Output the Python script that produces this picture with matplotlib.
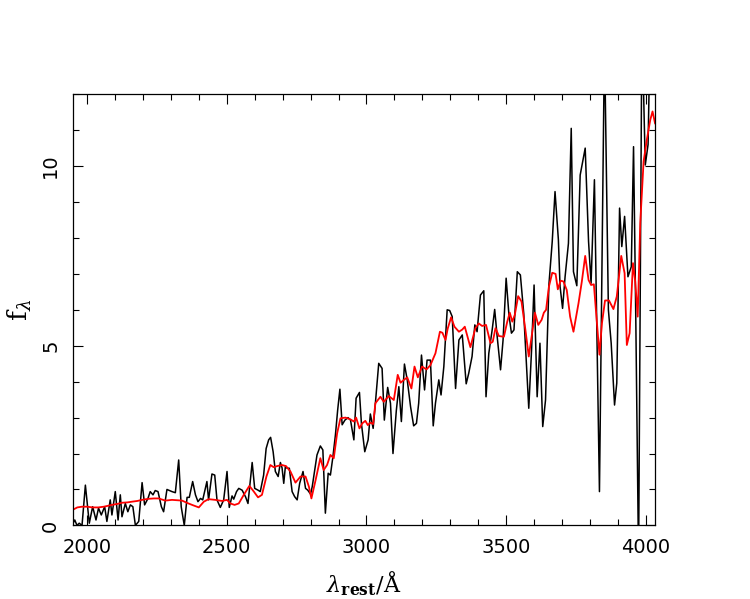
import matplotlib
matplotlib.use('Agg')
import matplotlib.pyplot as plt
from matplotlib.ticker import MultipleLocator

# observed spectrum (black)
obs_wave = [1948, 1956, 1964, 1972, 1982, 1994, 2008, 2020, 2032, 2041,
            2051, 2063, 2071, 2083, 2089, 2101, 2111, 2119, 2125, 2137,
            2146, 2155, 2164, 2173, 2185, 2197, 2206, 2218, 2226, 2236,
            2244, 2254, 2266, 2274, 2286, 2304, 2316, 2328, 2337, 2348,
            2358, 2366, 2378, 2388, 2397, 2406, 2414, 2429, 2435, 2447,
            2457, 2465, 2477, 2489, 2501, 2509, 2519, 2525, 2535, 2543,
            2555, 2567, 2576, 2591, 2600, 2612, 2620, 2632, 2641, 2650,
            2657, 2666, 2674, 2684, 2692, 2698, 2704, 2710, 2716, 2724,
            2734, 2743, 2752, 2761, 2773, 2782, 2790, 2800, 2806, 2815,
            2823, 2835, 2844, 2853, 2863, 2871, 2880, 2889, 2897, 2905,
            2913, 2923, 2934, 2943, 2955, 2963, 2975, 2982, 2994, 3006,
            3014, 3024, 3032, 3044, 3056, 3064, 3076, 3086, 3095, 3107,
            3116, 3125, 3136, 3146, 3158, 3169, 3179, 3187, 3197, 3208,
            3217, 3229, 3239, 3247, 3259, 3267, 3277, 3289, 3298, 3307,
            3319, 3331, 3343, 3357, 3366, 3378, 3388, 3396, 3408, 3420,
            3428, 3438, 3450, 3459, 3468, 3480, 3489, 3500, 3510, 3519,
            3528, 3540, 3551, 3563, 3573, 3581, 3591, 3600, 3611, 3621,
            3631, 3641, 3653, 3665, 3675, 3687, 3693, 3702, 3711, 3723,
            3733, 3741, 3753, 3765, 3783, 3795, 3804, 3816, 3834, 3852,
            3866, 3876, 3888, 3896, 3906, 3914, 3924, 3936, 3948, 3956,
            3964, 3974, 3986, 3998, 4008, 4016, 4033]
obs_flux = [0.03, 0.15, 0.0, 0.06, 0.0, 1.12, 0.06, 0.52, 0.15, 0.48,
            0.29, 0.52, 0.11, 0.71, 0.29, 0.94, 0.15, 0.85, 0.24, 0.61,
            0.38, 0.57, 0.52, 0.0, 0.11, 1.19, 0.57, 0.75, 0.94, 0.85,
            0.97, 0.94, 0.52, 0.38, 1.0, 0.94, 0.91, 1.82, 0.52, 0.0,
            0.78, 0.78, 1.22, 0.85, 0.66, 0.75, 0.71, 1.22, 0.71, 1.43,
            1.4, 0.71, 0.5, 0.71, 1.5, 0.5, 0.82, 0.73, 0.94, 1.03,
            0.98, 0.8, 0.61, 1.75, 1.03, 0.98, 0.94, 1.4, 2.14, 2.38,
            2.45, 2.05, 1.5, 1.36, 1.75, 1.6, 1.17, 1.65, 1.59, 1.59,
            0.94, 0.8, 0.71, 1.17, 1.5, 1.03, 0.98, 0.87, 1.08, 1.54,
            1.96, 2.21, 2.1, 0.34, 1.45, 1.4, 1.91, 2.52, 3.21, 3.79,
            2.8, 2.93, 3.0, 2.93, 2.38, 3.54, 3.7, 2.84, 2.05, 2.38,
            3.1, 2.7, 3.4, 4.51, 4.37, 2.93, 3.84, 3.4, 2.0, 3.2,
            3.86, 2.89, 4.49, 4.05, 3.3, 2.77, 2.84, 3.4, 4.74, 3.77,
            4.6, 4.6, 2.77, 3.4, 4.05, 3.63, 4.42, 6.0, 5.98, 5.81,
            3.81, 5.16, 5.3, 3.94, 4.23, 4.7, 5.58, 5.39, 6.41, 6.53,
            3.58, 4.79, 5.44, 6.01, 5.25, 4.33, 5.16, 6.88, 5.86, 5.35,
            5.44, 7.06, 6.97, 5.9, 4.42, 3.26, 4.88, 6.69, 3.58, 5.07,
            2.75, 3.49, 6.69, 7.9, 9.29, 7.95, 6.65, 6.04, 6.92, 7.85,
            11.05, 7.06, 6.67, 9.75, 10.5, 7.9, 6.74, 9.62, 0.94, 13.5,
            6.0, 5.07, 3.35, 3.96, 8.83, 7.76, 8.6, 6.92, 7.2, 10.54,
            5.8, -1.0, 14.0, 10.03, 10.6, 14.0, 14.0]

# model / template (red)
model_wave = [1948, 1965, 1982, 2000, 2020, 2040, 2060, 2089, 2110, 2125,
              2145, 2161, 2180, 2197, 2220, 2240, 2256, 2280, 2304, 2320,
              2340, 2360, 2376, 2400, 2418, 2435, 2459, 2483, 2501, 2513,
              2528, 2543, 2561, 2581, 2597, 2612, 2626, 2642, 2656, 2668,
              2680, 2698, 2712, 2728, 2746, 2764, 2782, 2794, 2803, 2818,
              2835, 2847, 2859, 2871, 2883, 2895, 2907, 2925, 2943, 2955,
              2963, 2975, 2985, 2996, 3005, 3014, 3024, 3032, 3050, 3062,
              3080, 3098, 3112, 3122, 3134, 3146, 3161, 3172, 3184, 3199,
              3215, 3229, 3247, 3263, 3272, 3283, 3291, 3303, 3315, 3331,
              3343, 3352, 3372, 3390, 3402, 3414, 3428, 3444, 3452, 3462,
              3474, 3492, 3504, 3513, 3522, 3531, 3543, 3555, 3569, 3581,
              3593, 3603, 3615, 3627, 3635, 3643, 3653, 3665, 3677, 3685,
              3695, 3705, 3717, 3729, 3741, 3759, 3771, 3783, 3795, 3804,
              3814, 3825, 3834, 3843, 3854, 3868, 3884, 3896, 3912, 3924,
              3932, 3942, 3954, 3962, 3971, 3980, 3992, 4004, 4016, 4024,
              4033]
model_flux = [0.43, 0.5, 0.52, 0.52, 0.5, 0.5, 0.52, 0.57, 0.6, 0.63,
              0.64, 0.66, 0.68, 0.71, 0.74, 0.75, 0.75, 0.69, 0.71, 0.7,
              0.69, 0.62, 0.57, 0.5, 0.66, 0.73, 0.71, 0.68, 0.71, 0.61,
              0.57, 0.61, 0.85, 1.1, 0.94, 0.78, 0.85, 1.36, 1.68, 1.62,
              1.65, 1.68, 1.65, 1.5, 1.19, 1.36, 1.36, 1.08, 0.75, 1.26,
              1.87, 1.54, 1.68, 1.96, 1.87, 2.56, 2.98, 3.0, 2.95, 2.89,
              3.0, 2.7, 2.84, 2.91, 2.79, 2.86, 2.82, 3.4, 3.58, 3.44,
              3.6, 3.49, 4.19, 3.97, 4.05, 4.12, 3.81, 4.42, 4.12, 4.42,
              4.34, 4.46, 4.79, 5.39, 5.36, 5.16, 5.48, 5.79, 5.53, 5.39,
              5.45, 5.53, 4.96, 5.49, 5.62, 5.55, 5.58, 5.07, 5.11, 5.49,
              5.27, 5.25, 5.67, 5.92, 5.67, 5.86, 6.38, 6.23, 5.44, 4.7,
              5.35, 5.92, 5.58, 5.72, 5.92, 6.0, 6.64, 7.03, 7.0, 6.57,
              6.81, 6.79, 6.55, 5.81, 5.39, 6.18, 6.79, 7.5, 6.83, 6.69,
              6.71, 5.63, 4.75, 5.63, 6.26, 6.26, 6.02, 6.37, 7.5, 7.02,
              5.02, 5.35, 7.3, 6.79, 5.81, 8.41, 10.13, 10.75, 11.29, 11.52,
              11.19]

plt.rcParams['font.family'] = 'DejaVu Sans'
plt.rcParams['mathtext.fontset'] = 'dejavuserif'

fig = plt.figure(figsize=(7.5, 5.99), dpi=100)
ax = fig.add_axes([0.0967, 0.1229, 0.7767, 0.7198])

ax.plot(obs_wave, obs_flux, color='black', lw=1.1)
ax.plot(model_wave, model_flux, color='red', lw=1.3)

ax.set_xlim(1948, 4033)
ax.set_ylim(0, 12)

ax.xaxis.set_major_locator(MultipleLocator(500))
ax.xaxis.set_minor_locator(MultipleLocator(100))
ax.yaxis.set_major_locator(MultipleLocator(5))
ax.yaxis.set_minor_locator(MultipleLocator(1))

ax.tick_params(which='both', direction='in', top=True, right=True, width=0.8,
               labelsize=14)
ax.tick_params(which='major', length=7)
ax.tick_params(which='minor', length=4)
ax.tick_params(axis='x', pad=9)
ax.tick_params(axis='y', pad=9, labelrotation=90)
for lab in ax.get_yticklabels():
    lab.set_verticalalignment('center')

for sp in ax.spines.values():
    sp.set_linewidth(0.9)

ax.set_xlabel(r'$\lambda_{\mathbf{rest}}/\mathrm{\AA}$', fontsize=16, labelpad=9)
ax.set_ylabel(r'$\mathrm{f}_{\lambda}$', fontsize=19, labelpad=5)

fig.savefig('out.png', dpi=100)
